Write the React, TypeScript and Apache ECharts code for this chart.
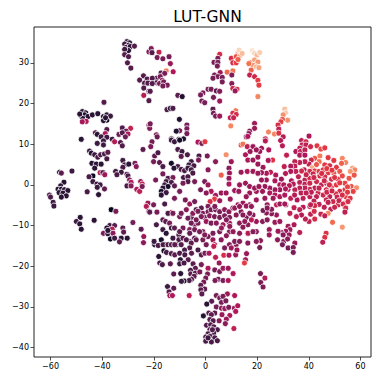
import React, { useEffect, useRef } from "react";
import * as echarts from "echarts";

const xTicks = [-60, -40, -20, 0, 20, 40, 60];
const yTicks = [-40, -30, -20, -10, 0, 10, 20, 30];
const rocket = ["#03051A", "#35193E", "#701F57", "#AD1759", "#E13342", "#F37651", "#F6B48F", "#FAEBDD"];

const topLeft: number[][] = [[-30.4,35.2,.15],[-29.4,34.9,.1],[-31.3,34.6,.15],[-29.8,34.3,.1],[-30.7,33.8,.2],[-29.1,34,.1],[-27.5,34.1,.2],[-29.8,33,.1],[-31.3,33.3,.15],[-31.3,32,.2],[-29.8,31.5,.2],[-30.2,30,.2],[-28.9,28.7,.2],
[-24,26.8,.2],[-25.5,25.75,.2],[-22.6,26,.2],[-23.6,25,.2],[-22.3,25,.2],[-23.9,23.8,.2],[-21.9,23,.2],[-23.9,22,.42],[-21.9,20.7,.2],[-39.3,20.3,.2],
[-47.7,18,.1],[-46.4,17.7,.1],[-48.1,16.9,.1],[-46.8,17.2,.05],[-45.5,16.8,.1],[-47.5,16.3,.1],[-46.2,15.6,.42],[-47.7,15.5,.38],[-48.7,17.4,.1],[-43.8,17.2,.1],[-41.7,17.5,.1],
[-39.5,16.8,.1],[-38.2,17.2,.1],[-36.8,16.9,.15],[-38.2,15.9,.05],[-39.5,15.8,.1],[-38.7,16.5,.1],[-38.2,13.6,.2],[-42.6,12.8,.2],[-41.9,12.4,.1],[-38.8,12.6,.4],[-40.4,11.8,.15],[-38.2,11.7,.15],
[-32.2,14,.2],[-29,13.9,.45],[-33.5,12.4,.25],[-30.7,13.2,.25],[-30,12.5,.4],[-32.2,12.8,.2],[-31,11.8,.25],[-48.1,11.2,.1],[-36.1,11.2,.15],[-21.9,32.7,.3],[-21.9,14.7,.3],[-21.6,13.9,.3]];

const topMiddle: number[][] = [[-21,33.5,.3],[-20.7,32.5,.2],[-18,32.6,.45],[-18.7,31.3,.28],[-16.5,31,.28],[-14.1,31.5,.28],[-13.6,29.8,.35],[-15.2,28,.68],[-12.5,27.8,.4],[-17.2,27.5,.22],[-15.8,27.4,.28],
[-19,26.2,.2],[-17.5,26.6,.28],[-16.7,25.7,.32],[-20.6,26.2,.2],[-19,25.1,.22],[-20.6,24.9,.2],[-17.8,24.9,.28],[-16.2,25.3,.28],[-14.8,24.5,.28],[-16.5,24.3,.28],[-21.4,23,.2],
[-10.7,22,.22],[-9,21.7,.08],[-14.9,18.5,.18],[-13.6,18.8,.1],[-12.6,18.8,.18],[-10.1,16.1,.08],[-21.4,15,.28],[-7.2,14.7,.28],[-7.2,13.8,.28],[-7.2,12.6,.28],[-10,13.3,.28],[-11.3,13.2,.08],[-19,12.3,.28],[-18.7,11.8,.25],[-13.2,11.3,.1],[-10.3,11.2,.1],[-8.5,11.3,.08]];

const topCenter: number[][] = [[5.5,32.1,.5],[4.8,31.1,.3],[3.3,30.1,.28],[4.8,30.1,.28],[4.6,29.2,.28],[10,31.1,.5],[12.6,32.3,.75],[11.9,31.5,.6],[13.6,31.9,.75],[13,33.1,.88],[14.2,32.3,.82],[10.6,30,.5],[11.9,30,.55],[12.6,30.8,.62],
[18.1,33,.92],[19,32.3,.88],[19.9,31.9,.82],[21,32.5,.86],[17.7,30.1,.68],[19,30.7,.76],[20.3,30.2,.74],[18.4,29.4,.72],[19.7,29,.8],[16.8,29.8,.66],[20.7,28.8,.76],[17.7,28.2,.62],[17.1,27,.45],[19,26.6,.48],[20.3,25.7,.55],[20.7,24.5,.55],
[10.6,28,.66],[8.4,27.7,.64],[5.7,27.6,.36],[10.2,27,.3],[3.5,27,.28],[4.8,26.6,.28],[6.5,26.4,.28],[2.9,26.2,.28],[6.5,25.3,.28],[10.2,24.9,.32],[10.6,23.7,.48],[12.2,23.5,.5],[11.5,23.1,.36],
[1,23.5,.28],[2.2,23.5,.28],[4.2,23.1,.22],[5.5,23,.3],[-1,22.6,.28],[-1.9,22.1,.28],[3.1,21.5,.28],[-1.4,20.6,.28],[-.3,20.2,.28],[5.5,20.6,.36],[20.3,21.7,.7],[2.9,18.6,.22],[3.1,17.6,.28],[3.9,16.9,.28],[5.5,16.9,.36],
[11.7,18.2,.66],[10.6,17.6,.5],[11.9,17.3,.5],[9.6,16.5,.44],[10.9,16.5,.46],[9.8,14.5,.7],[19,15.1,.36],[19,13.9,.36],[17.1,13.2,.32],[16.8,12.6,.32],[15.8,11.8,.32]];

const upperRight: number[][] = [[30.7,18.6,.82],[31,17.7,.85],[30.1,17.2,.72],[31.8,15.9,.72],[29.8,16.1,.6],[29.2,15.5,.55],[28.1,14.7,.5],[28.4,13.7,.44],[24.4,13,.7],[26.7,12.5,.7],[28.4,12.7,.52],[30.1,11.8,.42],[23.2,11.3,.45],[23.2,10.8,.42],[29.1,10.9,.42],[29.8,9.6,.42],
[40.1,12,.4],[37.2,10.9,.44],[38.9,10.6,.48],[37.4,9.8,.44],[38.9,9.8,.44],[40.7,9.4,.48],[43.2,9.6,.54],[44.7,8.8,.58],[46.2,9.1,.54],[36.5,9,.44],[35,8.2,.4],[36.8,8.2,.44],[38.5,8.6,.44],[36.5,7.3,.4],[38.5,7.3,.4],[31.4,7.3,.44],[24.5,8.6,.4],[21.7,9,.36],[21,8.2,.36],
[44.3,7.1,.68],[42.3,6.5,.6],[44,5.7,.65],[41,6.1,.48],[47.5,6.7,.54],[49.7,6,.54],[53,6.5,.7],[54.3,5.5,.7],[52.7,5.3,.62],[40.1,5.1,.44],[38.5,5.7,.44],[36.5,5.5,.44],[34.6,5.7,.44],[34.6,4.6,.44],[33,4.6,.4],[30.5,4.5,.44],[26,6.1,.52],[24.3,6,.4],
[46.2,4.9,.54],[48.1,4.7,.5],[50.7,4.3,.54],[41.3,4.2,.78],[42.3,3.4,.54],[44,3.3,.54],[45.6,3.7,.54],[47.5,3,.54],[49.7,2.85,.6],[52,3.3,.6],[56.9,4.1,.76],[57.8,3.7,.7],[56.1,3.3,.74],[57.6,2.4,.6],[55.6,1.6,.6],
[38.2,3.7,.44],[37.2,3.4,.48],[35,3.3,.44],[33,3.3,.4],[40.4,3.3,.48],[41.7,2.7,.48],[44.3,2.2,.5],[46.2,2,.5],[48.8,1.4,.5],[51.4,1.4,.54],[22.3,4.3,.36],[25.2,3.1,.44],[23.6,2.85,.4],[21.7,3,.36],[27.2,2.4,.4],[29.4,1.4,.36],[26.9,1,.4],[23.6,1.2,.36],[21.7,1.2,.36],[33.3,1,.4],[28.8,0,.4],[30.3,0,.4]];

const rightDense: number[][] = [[38.5,1.2,.44],[40.4,1.6,.48],[36.5,.6,.44],[38.5,.15,.44],[40.4,.4,.48],[43,.8,.48],[44.9,0,.44],[46.8,.4,.48],[48.8,-.4,.52],[50.7,0,.54],[54,.4,.56],[56.5,-.4,.6],[58.5,-.7,.72],[57.2,-1.6,.56],[54,-1.2,.54],[52,-1.6,.5],[50.5,-2.2,.5],[46.8,-1.2,.5],[43.6,-2,.48],[45.6,-2.5,.48],[48.1,-2.9,.44],[42.3,-.8,.44],[40.4,-1.1,.44],[38.5,-.8,.44],[36.5,-.8,.44],[34.6,-1.2,.44],[32,-1.1,.4],[28.8,-1.2,.36],[26.9,-1.2,.36],[24.9,-.8,.36],[23,-.4,.36],[21,-.8,.36],[22.1,-1.6,.36],[24.9,-2,.4],[26.9,-2.5,.4],[28.8,-2.9,.4],[30.7,-2.5,.4],[23,-3.3,.36],[26.2,-3.3,.36],[33,-3.3,.44],[35.5,-3.7,.4],[37.8,-3.3,.44],[40.4,-2.9,.44],[43,-2.9,.44],[46.8,-3.7,.46],[49.4,-4.1,.48],[52,-3.3,.44],[54.3,-2.9,.54],[56,-3.3,.52],[54,-4.5,.5],[51.4,-4.9,.48],[23.9,-4.9,.36],[27.5,-4.9,.44],[31.1,-4.9,.4],[34.3,-5.6,.44],[40.4,-5.3,.44],[37.8,-5.5,.42],[54,-5.5,.5],
[42,1.8,.48],[44,-.8,.46],[46,1,.48],[48,0,.5],[50,1.8,.52],[52,.5,.54],[53,2.2,.58],[55,-.5,.56],[47,-1.8,.48],[49,-1.5,.48],[51,-3,.46],[55,-1.8,.54],[53,-2.5,.5],[41,-1.8,.44],[47,4,.54],[49,3.6,.54],[43,5,.6],[45,2.8,.5],[39,2.5,.46],[36,2,.44],[34,.2,.42],[31,2.8,.42],[32.5,-.2,.42],[37,-2,.44],[39,-2,.44],[34.5,-2.5,.42],[31,-1,.4],[42,-4,.44],[44,-4.8,.44],[46,-5.5,.44],[48.5,-6,.44],[50,-5.5,.46]];

const lowerRight: number[][] = [[47.5,-7,.7],[49.2,-9.2,.64],[53,-10.4,.74],[46.7,-11.9,.52],[46.2,-12.9,.52],[45.4,-14.1,.44],[42.3,-8.4,.5],[40.7,-7.2,.44],[42.1,-6.5,.5],[42.3,-5.1,.5],[44.7,-7.2,.46],[46.2,-7.6,.44],[40.1,-9,.44],[38.7,-8.4,.44],[36.5,-6.1,.44],[37.2,-7.4,.42],[35.2,-7.8,.44],[32.7,-7,.44],[36.5,-11.7,.44],[34.3,-9.8,.4],[32,-10.2,.36],[32.7,-11,.36],[31.1,-11.4,.36],[32.4,-12.3,.36],[29.4,-11.7,.32],[30.1,-12.3,.32],[28.1,-11.4,.36],[24.7,-11,.36],[24.7,-12.3,.36],[26.9,-9.2,.36],[28.8,-9,.36],[22.1,-9,.32],[23.9,-8.6,.32],[27.5,-7.4,.36],[25.6,-7.1,.32],[23.6,-6.9,.32],[22.3,-6.3,.28],[25.6,-6,.32],[23.9,-5.7,.32],[21.3,-13.7,.32],[27.9,-13.5,.32],[30.3,-13.9,.32],[31.8,-13.3,.32],[34.6,-14.3,.36],[29.8,-14.7,.28],[32,-15.5,.28],[34,-15.4,.28],[34,-16.6,.28],[21,-15.4,.28],[21.3,-21.8,.28],[23,-22.9,.42],[21.4,-24,.28],[22.3,-25.1,.3],[40.7,-4.9,.44],[47.5,-4.3,.44],[51.7,-3.9,.46],[53.3,-4.7,.5],[55.2,-4.1,.5],[54.3,-5.7,.5],[54,-6.7,.44],[28.8,-4.7,.36],[30.7,-4.7,.38]];

const leftGroup: number[][] = [[-41.9,10.2,.15],[-39.5,10.8,.15],[-39.5,9.8,.15],[-35.2,10.6,.42],[-32.9,10.4,.2],[-32.2,9.6,.2],[-24.2,8.7,.22],[-44.9,8.3,.15],[-44.2,7.8,.1],[-42.9,7.4,.15],[-41.7,6.8,.18],[-40.6,7.4,.18],[-39.1,7.6,.18],[-37.8,8,.22],[-38.2,6.4,.18],[-44,5.3,.1],[-42.3,5.1,.1],[-40.4,5.1,.1],[-42.9,4.1,.1],[-32,6,.15],[-31.3,4.9,.15],[-29.7,5.1,.1],[-27.3,5.3,.28],[-26.8,4.5,.32],[-32,4.3,.18],[-34.8,3.3,.15],[-32.6,3.1,.15],[-34.3,2.5,.18],
[-51.7,3.4,.15],[-56.5,3.1,.1],[-55.8,2.9,.22],[-43.6,2.2,.02],[-45.1,2,.18],[-43.6,.8,.15],[-40.8,3,.42],[-39.7,3,.18],[-39,2.5,.36],[-30.4,2.6,.18],[-30,2.2,.18],[-29.4,1.2,.32],[-28.8,.6,.4],[-30.4,-.25,.18],[-28.8,-.25,.32],[-25.1,.8,.36],[-24.5,.2,.44],[-26.6,-1.1,.4],[-25.5,-1.6,.44],[-24.5,-.4,.28],[-42,.2,.15],[-40.8,0,.15],[-41.9,-.6,.15],[-39.1,-1,.22],[-45.8,-1.7,.18],[-41.4,-2.4,.1],
[-54.8,.65,.1],[-56.1,-.25,.1],[-57.1,-1.07,.1],[-55.8,-1.07,.1],[-54.6,-1.2,.1],[-53.3,-1.4,.1],[-56.7,-1.9,.1],[-55.2,-2.05,.1],[-53.9,-2.7,.1],[-55.8,-3,.1],[-60.4,-2.5,.18],[-60,-3,.18],[-59,-4.3,.15],[-58.7,-5.2,.15],[-36.5,-6.1,0],[-34.7,-6.5,.28],[-48.5,-8,.1],[-50,-9,.15],[-48.7,-9.6,.1],[-48.1,-10.9,.1],[-43.1,-8.7,.1],[-22.3,-4.5,.36],[-22.9,-5.3,.42],[-21.9,-6.5,.28],[-28.1,-9.25,.28],
[-37.1,-10,.15],[-38.2,-10.6,.1],[-35.2,-10,.22],[-36.1,-10.9,.42],[-32,-10.6,.22],[-39.5,-11.9,.28],[-37.8,-12,.1],[-35.8,-11.9,.32],[-31.7,-11.6,.22],[-36.8,-13.3,.02],[-35.2,-13.1,.15],[-32.6,-13.1,.1],[-30.3,-13.1,.1],[-33.3,-14,.22],[-23.9,-12.7,.36],[-24,-14.2,.32],[-37.8,-11.2,.1]];

const middleGroup: number[][] = [[-20.7,10.6,.28],[-21.2,9.4,.28],[-13.2,11,.15],[-12,10.6,.15],[-10,11,.05],[-10.7,8.7,.18],[-9.1,8.2,.15],[-7,7.4,.18],[-2.9,10.5,.4],[-1.4,10.2,.28],[-.2,10.6,.55],[-19.7,7.1,.22],[-18.4,7.9,.18],[-20.1,5.7,.28],[-17.8,5.5,.22],[-16.5,4.5,.18],[-13.2,5.3,.05],[-9.4,7,.22],[-10.7,4.5,.18],[-12.2,4.1,.1],[-9.4,3.8,.18],[-8.1,3.5,.18],[-5.5,5.7,.15],[-6.4,4.9,.15],[-4.5,4.7,.18],[-6.8,4.1,.15],[-5.5,3.7,.15],[-8.5,1.8,.18],[-6.8,2,.18],[-6.8,.8,.18],[-4.2,.8,.28],[-4.9,2.9,.18],
[-2.5,7.1,.18],[.7,7.1,.28],[-2.7,6.1,.28],[3.9,5.7,.32],[1,3.7,.32],[8,7.4,.72],[6.1,2.4,.62],[10,5.7,.36],[9.1,4.1,.32],[9.3,2.9,.36],[9.1,1.6,.36],[9.1,.2,.4],[16.4,11.9,.4],[13.8,9.8,.56],[14.5,10,.66],[16.2,9.4,.44],[18.4,9.4,.36],[15.5,7.4,.4],[17.3,8.2,.36],[19.7,8.6,.36],[16.4,6.1,.4],[18.4,6.1,.36],[20.3,6.8,.36],[20.3,5.1,.36],[13.8,3.1,.36],[16.2,3.3,.4],[18.4,3.3,.36],[20.3,2.85,.36],[13.2,0,.36],[15.5,.4,.36],[17.1,-.4,.36],[11.3,-1.4,.36],[12.9,-1.6,.36],[17.1,-2,.36],[15.8,-2.9,.36],[19.7,-1.6,.36],[19,-.8,.36],[20.7,-.4,.36],
[-19.3,1.2,.28],[-16.5,2.7,.28],[-14.5,1.6,.18],[-12.6,1.8,.28],[-15.2,.8,.15],[-13.2,.6,.18],[-15.8,0,.15],[-14.5,-.4,.05],[-12,-.25,.22],[-16.5,-.8,.1],[-17.1,-1.6,.05],[-15.2,-1.9,.15],[-17.1,-2.5,.1],[-12,-3.3,.28],[-10,-1.6,.28],[-8.7,.4,.28],[-15.8,-4.7,.18],[-7.8,-3.7,.28],[-6.1,-4.7,.36],[-4.2,-4.1,.28],[-1.9,-1.2,.28],[-.3,.8,.28],[1,0,.36],[2.2,-1.6,.4],[.3,-2,.32],[6.1,-2,.36],[8,-2,.36],[3.9,-2.6,.36],[9.6,-3.5,.36],[3.5,-3.5,.55],[1.8,-4.1,.5],[5.5,-3.9,.36]];

const centerLower: number[][] = [[-20.1,-4.9,.28],[-21.6,-6.7,.22],[-18.8,-6.7,.28],[-19,-9.8,.18],[-16.5,-8.6,.22],[-15.4,-9,.22],[-13.9,-9.4,.28],[-13.2,-6.8,.42],[-14.5,-7,.18],[-10,-7.8,.28],[-9.4,-7,.28],[-7.4,-6.1,.32],[-5.5,-8,.22],[-4.9,-7,.32],[-8.7,-10.6,.28],[-4.2,-9.8,.28],[-3.6,-6.1,.22],[-1.6,-5.7,.22],[1,-5.3,.28],[-1,-7,.28],[1,-6.6,.28],[2.2,-6.1,.28],[3.9,-6.1,.28],[5.5,-6.6,.28],[7.4,-6.1,.32],[9.1,-6.6,.32],[10.6,-5.7,.36],[12.6,-4.9,.36],[14.5,-4.5,.36],[17.1,-4.9,.36],[19.7,-3.7,.36],
[-.3,-8,.28],[1.6,-7.6,.32],[3.5,-7.8,.28],[5.5,-8,.28],[7.4,-7.6,.28],[9.3,-8,.28],[11.9,-7.4,.32],[13.8,-6.6,.32],[15.8,-8,.28],[18.4,-7.4,.32],[19.7,-9,.36],[-2.9,-9.4,.28],[.3,-9,.36],[2.2,-9.4,.28],[4.2,-9.4,.32],[6.8,-9.8,.36],[9.3,-9.4,.36],[13.2,-9.4,.32],[16.4,-9.8,.32],[-6.1,-11,.28],[-4.2,-11,.28],[-1,-11.5,.28],[1,-12.7,.28],[2.9,-11.9,.28],[5.5,-11.5,.28],[9.3,-11.5,.32],[13.2,-11.9,.32],[16.4,-11.9,.32],[19.7,-11.5,.32],
[-16.5,-11,.15],[-15.2,-11.9,.1],[-13.2,-10.6,.15],[-12.6,-13.1,.15],[-10.3,-12.3,.18],[-10.3,-13.5,.18],[-8.7,-13.1,.22],[-17.1,-13.5,.05],[-15.8,-14.7,.18],[-11.3,-14.7,.18],[-19.7,-14.7,.1],[-6.1,-13.9,.18],[-4.2,-13.1,.22],[-1,-13.5,.28],[.3,-14.7,.28],[2.9,-13.5,.36],[3.5,-14.7,.44],[6.1,-13.5,.32],[9.3,-14.7,.32],[11.9,-14.7,.32],[7.4,-15.5,.28],[16.4,-14.3,.32],[19.7,-13.9,.32],
[-2.9,-6.5,.28],[-12.6,-7,.28],[-6.8,-8.2,.26],[-1.6,-7.8,.3],[-3.6,-8.6,.28],[-5.5,-9.4,.26],[-12,-10.6,.22],[-10,-11.5,.22],[-6.1,-11.9,.24],[-2.3,-11.5,.28],[-.3,-12.3,.3],[-24.9,-10.9,.22],[-7.4,-13.5,.2],[-3.6,-13.5,.24],[-5.5,-14.3,.22],[-9.4,-14.7,.2],[-6.1,-15.5,.2],[-8.1,-16,.18],
[3.6,-5.3,.3],[11.3,-5.7,.34],[13.2,-5.3,.34],[15.8,-5.2,.34],[17.8,-5.3,.34],[14.5,-7.4,.32],[17.1,-7,.32],[8.1,-8.6,.32],[15.2,-9,.34],[17.8,-8.6,.42],[6.2,-10.6,.34],[9.4,-10.2,.34],[14.5,-10.4,.32],[10.7,-11.5,.34],[16.5,-11.9,.42],[18.4,-11.5,.3],[8.1,-12.5,.32],[11.3,-13.9,.3],[13.2,-13.9,.3]];

const southWest: number[][] = [[-19.9,-13.9,.15],[-18.3,-14.9,.18],[-16.4,-14.7,.18],[-14.5,-14.7,.18],[-13.2,-14.7,.22],[-11.9,-14.7,.22],[-16.1,-16.2,.05],[-18.1,-17.6,.1],[-15.1,-16.6,.18],[-13.2,-16.9,.18],[-11.9,-17.2,.22],[-10,-16.8,.18],[-9.7,-18.4,.1],[-8,-17.2,.18],[-6.7,-18.4,.22],[-5.4,-16.8,.22],[-2.9,-16,.18],[-1.6,-17.2,.22],[-.2,-16.8,.28],[1.4,-16.8,.4],[-17.7,-19.2,.18],[-16.7,-19.6,.18],[-13.6,-19.4,.22],[-10,-19.4,.15],[-8.3,-19.2,.18],[-4.8,-19.4,.22],[-1.6,-19.6,.28],[-3.9,-20.5,.22],[-5.8,-21,.18],[1,-20.5,.4],[-12.3,-21.9,.22],[-9.6,-21.8,.1],[-5.7,-21.9,.22],[-3.9,-21.7,.22],[-2.2,-21.4,.28],[-4.4,-22.5,.22],[-5.4,-23.2,.22],[-6.3,-23.5,.18],[-8.3,-23.6,.1],[-9.3,-23.7,.15],[.8,-21.9,.28],[.1,-22.9,.28],[-.7,-23.9,.28],[-1.8,-24.7,.22],[-.3,-25.6,.22],[-1.8,-25.8,.22],[-1.4,-26.8,.22],[-14.7,-25,.15],[-12.3,-25.4,.22],[-14.1,-26.3,.22],[-13.8,-27.2,.36],[-12.8,-27.2,.4],[-6.3,-27.2,.44]];

const southCenter: number[][] = [[3.2,-15.1,.44],[3.9,-17.8,.44],[7.1,-17.3,.5],[9.1,-17.3,.4],[11.7,-17.2,.36],[10,-15.5,.36],[12.2,-16,.36],[15.9,-16.9,.36],[15.5,-18.4,.36],[15.1,-19.2,.55],[3.6,-20.9,.28],[5.3,-19.2,.36],[5.5,-21.3,.28],[6.8,-20.5,.36],[8.8,-20.5,.36],[10.7,-21.8,.4],[4.9,-23.2,.28],[6.8,-23.5,.28],[8.8,-23.5,.4],[3.7,-23.5,.28],
[4.2,-27.2,.28],[8.5,-26.8,.36],[11.3,-27.2,.4],[5.5,-27.8,.28],[6.8,-27.4,.28],[2.4,-28.6,.22],[.5,-29.3,.1],[6.2,-28.9,.28],[7.9,-28.5,.28],[4.2,-30,.28],[6.2,-30.3,.32],[7.5,-30.4,.36],[9,-30.1,.28],[11.2,-30.3,.36],[12.5,-29.7,.4],[11.7,-31.1,.4],[1.3,-31.5,.22],[3.6,-31.5,.22],[6.4,-31.9,.36],[-.8,-32.2,.1],[2.3,-31.9,.22],[9.4,-32.1,.4],[8.1,-33,.36],[1.7,-33.1,.2],[3,-33.4,.2],[5.3,-33.4,.32],[7.7,-34.1,.32],[.4,-34.5,.2],[2,-34.4,.2],[3.2,-34.9,.2],[4.6,-35.6,.18],[11,-35.3,.44],[1.7,-35.6,.18],[3.2,-36.4,.18],[1,-36.6,.18],[.1,-37.4,.18],[1.7,-37.2,.18],[3.6,-37.6,.18],[.1,-38.4,.18],[2.3,-38.6,.18],[4.6,-38.3,.18],[1,-37.6,.15],[2.7,-35.6,.2]];

const allPoints = [...topLeft, ...topMiddle, ...topCenter, ...upperRight, ...rightDense, ...lowerRight, ...leftGroup, ...middleGroup, ...centerLower, ...southWest, ...southCenter];
const minus = (v: number) => String(v).replace("-", "\u2212");

export default function App() {
  const ref = useRef<HTMLDivElement>(null);
  useEffect(() => {
    document.body.style.margin = "0";
    const chart = echarts.init(ref.current!, undefined, { renderer: "svg" });
    const axisCommon = {
      type: "value",
      splitLine: { show: false },
      axisLine: { show: false, onZero: false },
      axisTick: { show: true, length: 3.5, lineStyle: { color: "#222", width: 0.8 } },
    };
    chart.setOption({
      animation: false,
      backgroundColor: "#fff",
      textStyle: { fontFamily: "DejaVu Sans" },
      title: {
        text: "LUT-GNN", left: 202.5, top: 4, textAlign: "center",
        textStyle: { fontFamily: "DejaVu Sans", fontSize: 15.5, fontWeight: "normal", color: "#000" },
      },
      grid: { show: true, left: 34, right: 11, top: 27, bottom: 25, borderColor: "#222", borderWidth: 1, backgroundColor: "#fff" },
      xAxis: {
        ...axisCommon, min: -66.4, max: 64.1,
        axisTick: { ...axisCommon.axisTick, customValues: xTicks },
        axisLabel: { customValues: xTicks, formatter: minus, fontFamily: "DejaVu Sans", fontSize: 8, color: "#000", margin: 5 },
      },
      yAxis: {
        ...axisCommon, min: -42.3, max: 38.8,
        axisTick: { ...axisCommon.axisTick, customValues: yTicks },
        axisLabel: { customValues: yTicks, formatter: minus, fontFamily: "DejaVu Sans", fontSize: 8, color: "#000", margin: 5 },
      },
      visualMap: { show: false, type: "continuous", dimension: 2, min: 0, max: 0.93, inRange: { color: rocket } },
      series: [{
        type: "scatter", data: allPoints, symbolSize: 6,
        itemStyle: { borderColor: "#fff", borderWidth: 0.8, opacity: 1 },
      }],
    });
    return () => chart.dispose();
  }, []);
  return <div ref={ref} style={{ width: 382, height: 382 }} />;
}
